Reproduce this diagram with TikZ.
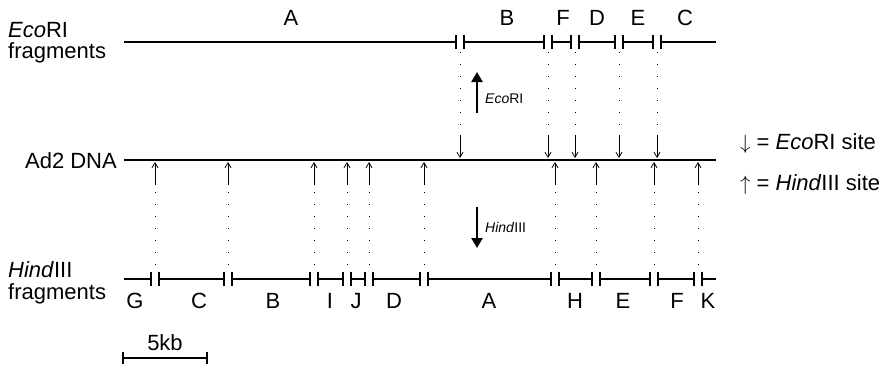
\documentclass[tikz,border=0pt]{standalone}
\usepackage{fontspec}
\setmainfont{Liberation Sans}
\usetikzlibrary{arrows.meta}
\begin{document}
\begin{tikzpicture}[x=1pt,y=-1pt,
  lbl/.style={font=\fontsize{22}{24}\selectfont, inner sep=0pt},
  small/.style={font=\fontsize{14}{16}\selectfont, inner sep=0pt, anchor=base west},
  frag/.style={line width=2pt},
  cutmark/.style={line width=1.6pt},
  guide/.style={line width=1pt, dash pattern=on 1pt off 11pt},
  site/.style={line width=0.8pt, -{Straight Barb[length=5pt,width=6pt]}},
  bigarrow/.style={line width=2.4pt, -{Triangle[length=10pt,width=11pt]}}]
\useasboundingbox (0,0) rectangle (886,367);

% ---------- EcoRI fragment map ----------
\coordinate (e0) at (124,42);
\coordinate (e6) at (716,42);
\foreach \x [count=\i] in {460,548,575,619,657} {
  \coordinate (e\i) at (\x,42);
  \coordinate (eL\i) at (\x-4,42);
  \coordinate (eR\i) at (\x+4,42);
  \coordinate (eg\i) at (\x,52);
  \coordinate (ed\i) at (\x,135);
  \coordinate (ea\i) at (\x,158);
}
\draw[frag] (e0) -- (eL1) (eR1) -- (eL2) (eR2) -- (eL3) (eR3) -- (eL4) (eR4) -- (eL5) (eR5) -- (e6);
\foreach \i in {1,...,5} {
  \draw[cutmark] (eL\i) ++(0,-7) -- ++(0,14) (eR\i) ++(0,-7) -- ++(0,14);
  \draw[guide] (eg\i) -- (ed\i);
  \draw[site] (ed\i) -- (ea\i);
}
\foreach \t/\x in {A/291,B/507,F/563,D/597,E/638,C/685}
  \node[lbl, anchor=base] (eco\t) at (\x,25.5) {\t};

\node[lbl, anchor=base west] (econame) at (8,37) {\textit{Eco}RI};
\node[lbl, anchor=base west] (ecofrag) at (8,58.5) {fragments};

% ---------- Ad2 DNA ----------
\coordinate (d0) at (124,160);
\coordinate (d1) at (716,160);
\draw[frag] (d0) -- (d1);
\node[lbl, anchor=base east] (ad2) at (117,168) {Ad2 DNA};

% ---------- HindIII fragment map ----------
\coordinate (h0) at (124,279);
\coordinate (h11) at (716,279);
\foreach \x [count=\i] in {155,228,314,347,369,424,555,596,654,698} {
  \coordinate (h\i) at (\x,279);
  \coordinate (hL\i) at (\x-4,279);
  \coordinate (hR\i) at (\x+4,279);
  \coordinate (hg\i) at (\x,271);
  \coordinate (hu\i) at (\x,185);
  \coordinate (ht\i) at (\x,162);
  \coordinate (hd\i) at (\x,192);
}
\draw[frag] (h0) -- (hL1) (hR1) -- (hL2) (hR2) -- (hL3) (hR3) -- (hL4) (hR4) -- (hL5)
  (hR5) -- (hL6) (hR6) -- (hL7) (hR7) -- (hL8) (hR8) -- (hL9) (hR9) -- (hL10) (hR10) -- (h11);
\foreach \i in {1,...,10} {
  \draw[cutmark] (hL\i) ++(0,-7) -- ++(0,14) (hR\i) ++(0,-7) -- ++(0,14);
  \draw[guide] (hd\i) -- (hg\i);
  \draw[site] (hu\i) -- (ht\i);
}
\foreach \t/\x in {G/135,C/199,B/273,I/330,J/356,D/394,A/489,H/575,E/623,F/677,K/708}
  \node[lbl, anchor=base] (hin\t) at (\x,308) {\t};

\node[lbl, anchor=base west] (hinname) at (8,277.5) {\textit{Hind}III};
\node[lbl, anchor=base west] (hinfrag) at (8,299.5) {fragments};

% ---------- digestion arrows ----------
\coordinate (ubot) at (477,113);
\coordinate (utop) at (477,72);
\draw[bigarrow] (ubot) -- (utop);
\node[small] (ecoarrow) at (485,103) {\textit{Eco}RI};

\coordinate (dtop) at (477,207);
\coordinate (dbot) at (477,248);
\draw[bigarrow] (dtop) -- (dbot);
\node[small] (hinarrow) at (485,232) {\textit{Hind}III};

% ---------- legend ----------
\node[lbl, anchor=base west] (legeco) at (740,149.5) {$\downarrow$ = \textit{Eco}RI site};
\node[lbl, anchor=base west] (leghin) at (740,190.5) {$\uparrow$ = \textit{Hind}III site};

% ---------- scale bar ----------
\coordinate (s1) at (123,358);
\coordinate (s2) at (207,358);
\draw[line width=1.8pt] (s1) -- (s2);
\draw[cutmark] (s1) ++(0,-6) -- ++(0,12) (s2) ++(0,-6) -- ++(0,12);
\node[lbl, anchor=base] (kb) at (165,350.5) {5kb};
\end{tikzpicture}
\end{document}
